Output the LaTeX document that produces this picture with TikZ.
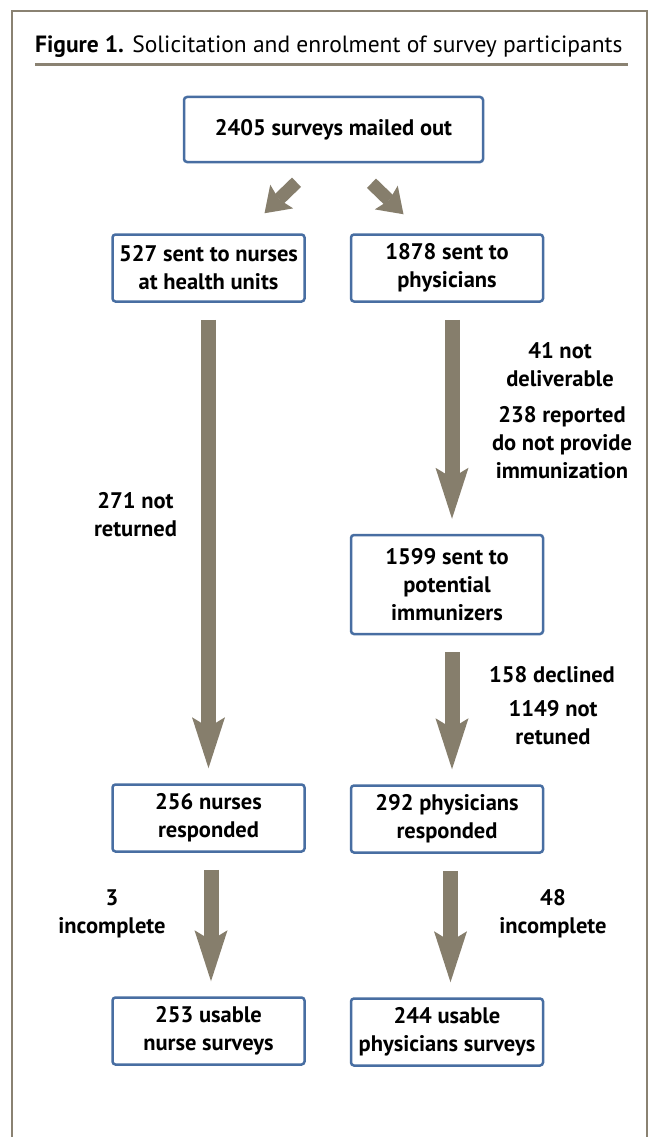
\documentclass[tikz,border=0pt]{standalone}
\usepackage{fontspec}
\setmainfont{PT Sans}
\usetikzlibrary{arrows.meta}

\definecolor{framegrey}{RGB}{138,130,114}
\definecolor{arrowgrey}{RGB}{134,126,108}
\definecolor{boxblue}{RGB}{72,110,162}

\begin{document}
\begin{tikzpicture}[x=1pt, y=-1pt,
  box/.style={draw=boxblue, line width=2.5pt, rounded corners=3pt, fill=white, align=center, minimum width=192pt, minimum height=67pt, inner sep=2pt, font=\fontsize{22.5}{28}\selectfont\bfseries},
  note/.style={align=center, inner sep=0pt, font=\fontsize{22.5}{28}\selectfont\bfseries},
  block arrow/.style={draw=arrowgrey, line width=15pt, -{Stealth[length=51pt,width=33pt,inset=10pt,line width=0pt]}, shorten <=17pt, shorten >=15pt},
  diag arrow/.style={draw=arrowgrey, line width=13pt, -{Stealth[length=24pt,width=33pt,inset=4pt,line width=0pt]}}
]
\useasboundingbox (0,0) rectangle (649,1137);

% frame and title
\draw[framegrey, line width=2.5pt] (12,1137) -- (12,11) -- (647,11) -- (647,1137);
\node[anchor=west, inner sep=0pt, font=\fontsize{23.5}{28}\selectfont] (title) at (35,47)
  {\textbf{Figure 1.} Solicitation and enrolment of survey participants};
\draw[framegrey, line width=3pt] (35,65) -- (628,65);

% boxes
\node[box, minimum width=299pt, minimum height=65pt] (mailed) at (333.5,129.5) {2405 surveys mailed out};
\node[box] (nurses) at (208.5,268) {527 sent to nurses\\at health units};
\node[box] (physicians) at (447,268) {1878 sent to\\physicians};
\node[box, minimum height=99pt] (immunizers) at (447,584.5) {1599 sent to\\potential\\immunizers};
\node[box] (nurseresp) at (208.5,818) {256 nurses\\responded};
\node[box] (physresp) at (447,819) {292 physicians\\responded};
\node[box] (nurseuse) at (208.5,1031) {253 usable\\nurse surveys};
\node[box] (physuse) at (447,1032) {244 usable\\physicians surveys};

% side notes
\node[note] (notreturned) at (135.5,515) {271 not\\returned};
\node[note] (undeliv) at (560,365) {41 not\\deliverable};
\node[note] (noimm) at (562,443) {238 reported\\do not provide\\immunization};
\node[note] (declined) at (552,675) {158 declined};
\node[note] (notretuned) at (553,723) {1149 not\\retuned};
\node[note] (nurseinc) at (112,914) {3\\incomplete};
\node[note] (physinc) at (553,914) {48\\incomplete};

% arrows
\draw[diag arrow] ([shift={(-37,19)}]mailed.south) -- ([shift={(-69,50)}]mailed.south);
\draw[diag arrow] ([shift={(38,20)}]mailed.south) -- ([shift={(70,51)}]mailed.south);
\draw[block arrow] (nurses) -- (nurseresp);
\draw[block arrow] ([xshift=5pt]physicians.south) -- ([xshift=5pt]immunizers.north);
\draw[block arrow] ([xshift=5pt]immunizers.south) -- ([xshift=5pt]physresp.north);
\draw[block arrow] ([xshift=2.5pt]nurseresp.south) -- ([xshift=2.5pt]nurseuse.north);
\draw[block arrow] ([xshift=3.5pt]physresp.south) -- ([xshift=3.5pt]physuse.north);
\end{tikzpicture}
\end{document}
